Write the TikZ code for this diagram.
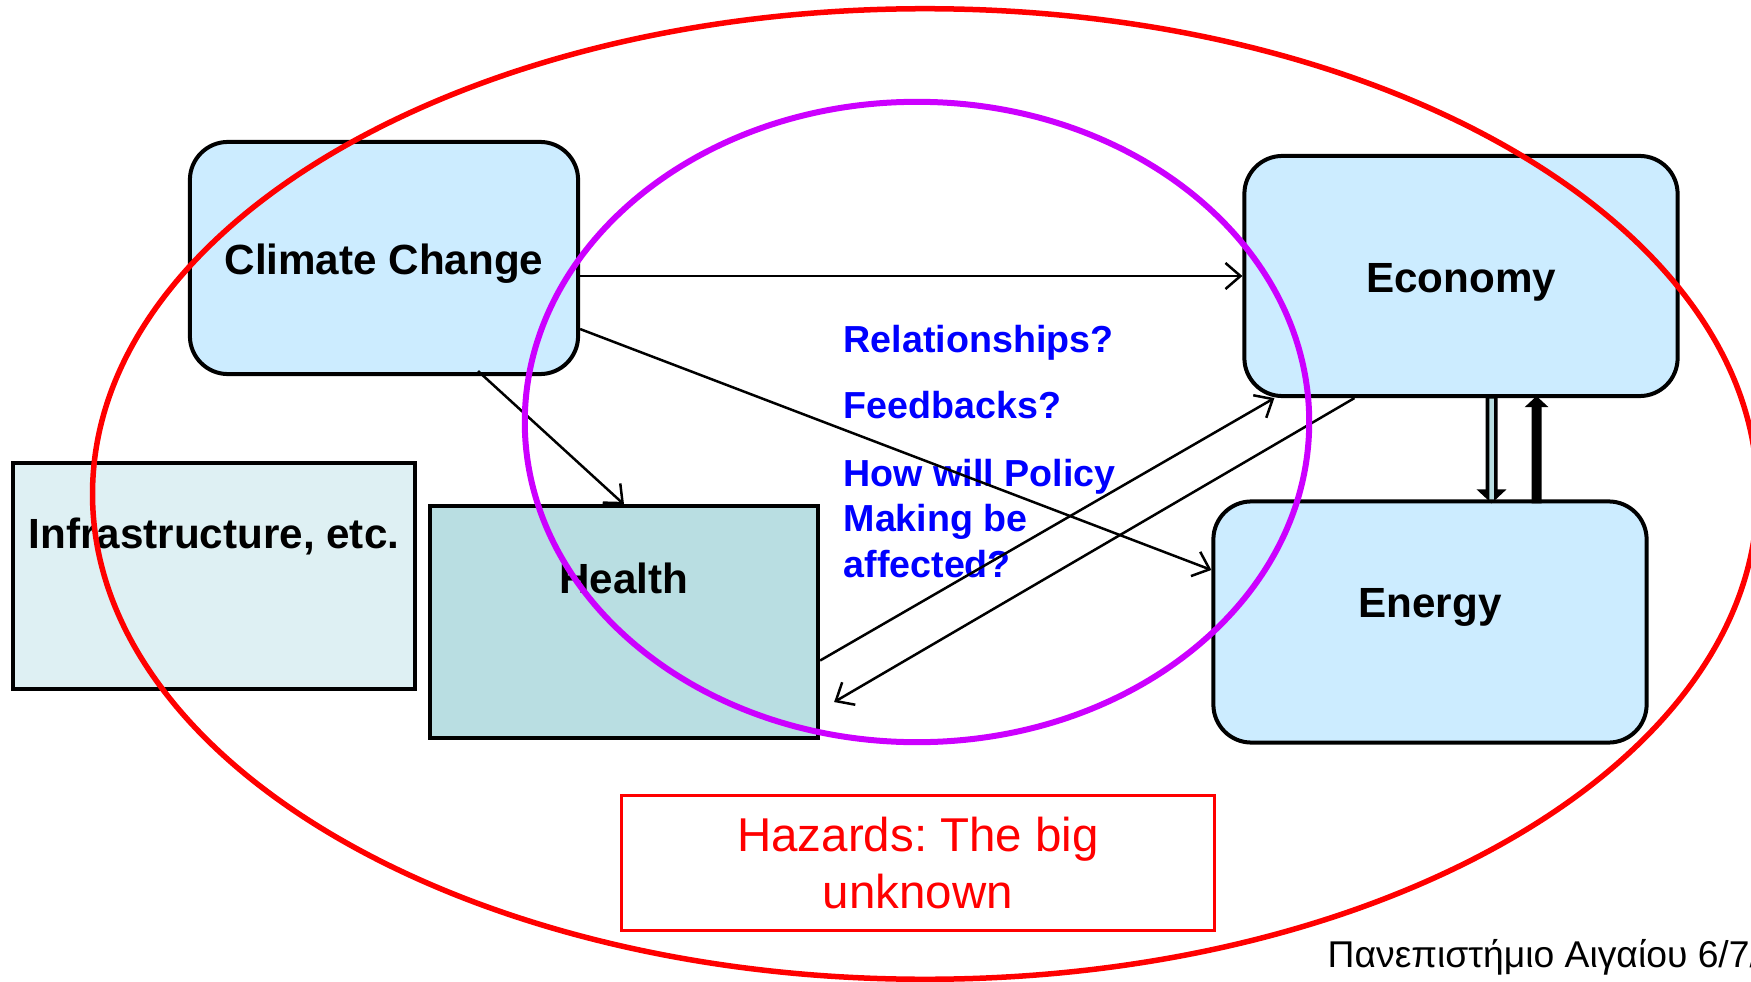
\documentclass[tikz,border=0pt]{standalone}
\usepackage{fontspec}
\setmainfont{Liberation Sans}
\usepackage{tikz}
\usetikzlibrary{arrows.meta}
\definecolor{skyfill}{RGB}{204,236,255}
\definecolor{tealfill}{RGB}{185,222,226}
\definecolor{gridfill}{RGB}{222,240,243}
\definecolor{ringpurple}{RGB}{204,0,255}
\frenchspacing

\begin{document}
\begin{tikzpicture}[x=0.01cm, y=-0.01cm,
    box/.style={draw, line width=0.04cm, inner sep=0pt},
    rbox/.style={box, rounded corners=0.38cm, fill=skyfill},
    tag/.style={font=\fontsize{12}{14}\selectfont\bfseries},
    ask/.style={text=blue, inner sep=0pt, anchor=base west, font=\fontsize{10.7}{12.8}\selectfont\bfseries},
    link/.style={line width=0.025cm, -{Straight Barb[length=0.15cm,width=0.26cm]}}]
  \useasboundingbox (0,0) rectangle (1751,982);

  \node[rbox, minimum width=3.88cm, minimum height=2.32cm,
        label={[tag, yshift=-0.055cm]center:Climate Change}] (climate) at (384,258) {};
  \node[rbox, minimum width=4.33cm, minimum height=2.40cm,
        label={[tag, yshift=-0.06cm]center:Economy}] (economy) at (1461,276) {};
  \node[rbox, minimum width=4.33cm, minimum height=2.41cm,
        label={[tag, yshift=0.15cm]center:Energy}] (energy) at (1430,622) {};
  \node[box, fill=gridfill, minimum width=4.02cm, minimum height=2.26cm,
        label={[tag, yshift=0.40cm]center:Infrastructure, etc.}] (infra) at (214,576) {};
  \node[box, fill=tealfill, minimum width=3.88cm, minimum height=2.31cm,
        label={[tag, yshift=0.44cm]center:Health}] (health) at (624,622) {};

  \node[ask] (rel) at (843,352) {Relationships?};
  \node[ask] (feed) at (843,419) {Feedbacks?};
  \node[ask, align=left] (policy) at (843,577) {How will Policy\\Making be\\affected?};

  \node[draw=red, line width=0.03cm, text=red, minimum width=5.92cm, minimum height=1.34cm,
        align=center, font=\fontsize{13.5}{16.2}\selectfont] (hazards) at (918,863) {Hazards: The big\\unknown};
  \node[anchor=base west, inner sep=0pt, font=\fontsize{10.6}{12.7}\selectfont] (uni) at (1327,967) {Πανεπιστήμιο Αιγαίου 6/7/};

  \draw[link] (climate.east |- economy.west) -- (economy.west);
  \draw[link] ([yshift=-0.71cm]climate.east) -- ([yshift=0.52cm]energy.west);
  \draw[link] ([xshift=0.94cm,yshift=0.05cm]climate.south) -- (health.north);
  \draw[link] ([yshift=-0.385cm]health.east) -- ([xshift=0.32cm]economy.south west);
  \draw[link] ([xshift=1.12cm]economy.south west) -- ([xshift=0.14cm,yshift=-0.8cm]health.east);

  \draw[line width=0.12cm, -{Triangle[length=0.14cm, width=0.29cm]}]
    ([xshift=2.49cm,yshift=0.02cm]economy.south west) -- ([xshift=2.80cm,yshift=-0.04cm]energy.north west);
  \draw[tealfill, line width=0.045cm]
    ([xshift=2.49cm,yshift=-0.005cm]economy.south west) -- ([xshift=2.80cm,yshift=0.0cm]energy.north west);
  \draw[line width=0.1cm, -{Triangle[length=0.11cm, width=0.23cm]}]
    ([xshift=3.25cm,yshift=-0.04cm]energy.north west) -- ([xshift=2.94cm,yshift=0.02cm]economy.south west);

  \draw[red, line width=0.055cm] (925,494) ellipse [x radius=8.32cm, y radius=4.85cm];
  \draw[ringpurple, line width=0.06cm] (917,422) ellipse [x radius=3.92cm, y radius=3.2cm];
\end{tikzpicture}
\end{document}
